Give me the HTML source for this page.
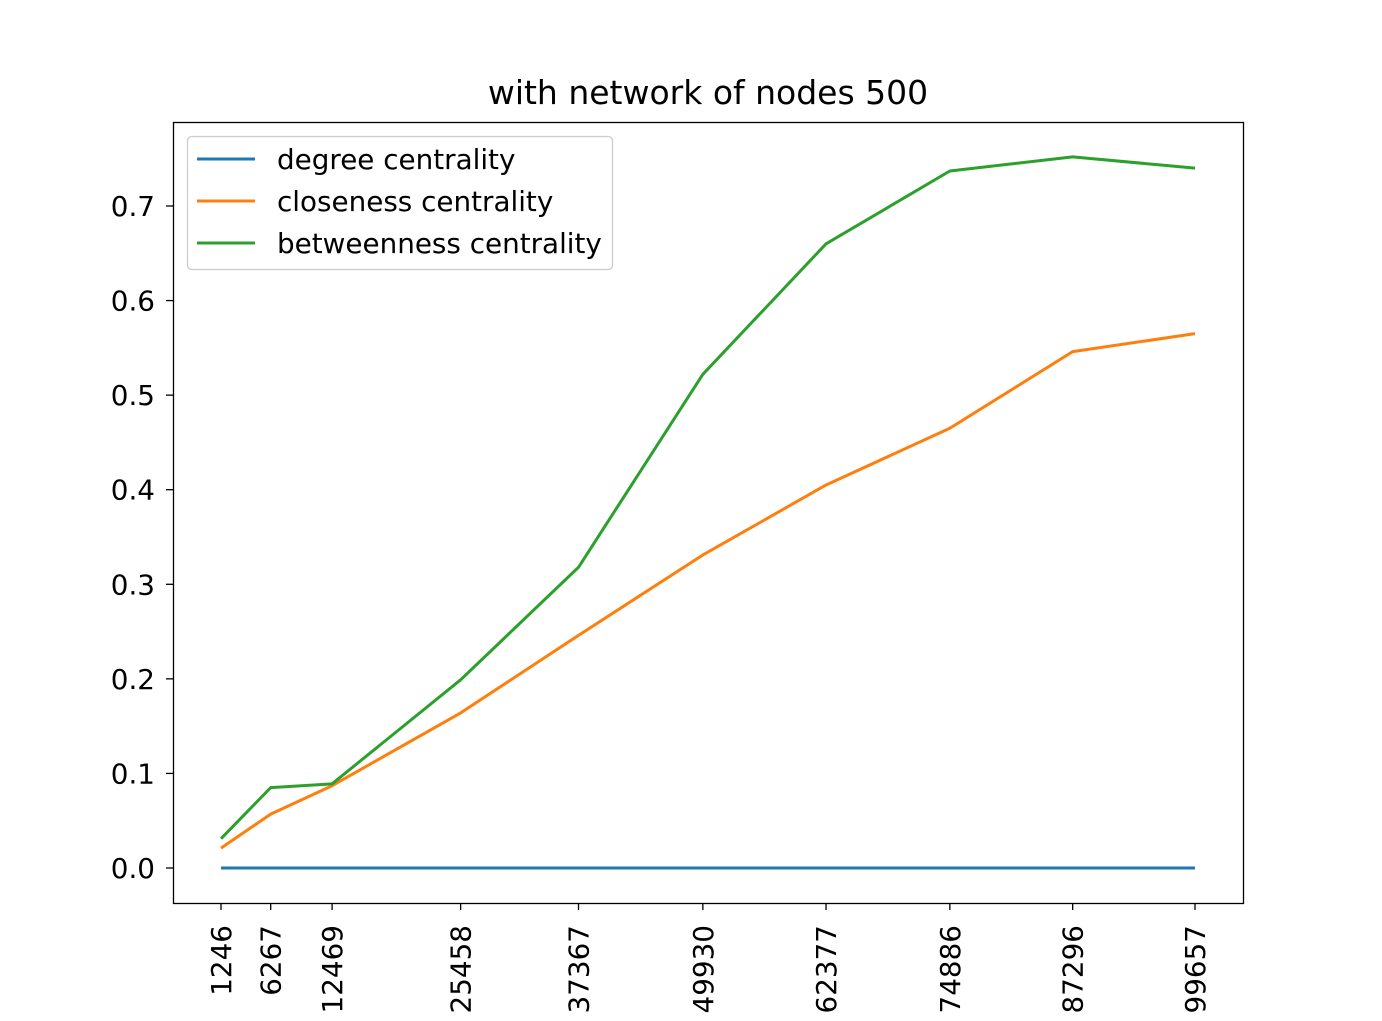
<!DOCTYPE html>
<html><head><meta charset="utf-8"><style>
body{margin:0;background:#fff;font-family:"Liberation Sans","DejaVu Sans",sans-serif}
</style></head><body>
<svg id="chart" width="1382" height="1016" xmlns="http://www.w3.org/2000/svg">
<rect x="0" y="0" width="1382" height="1016" fill="#fff"/>
<text x="708" y="104" font-size="33" text-anchor="middle" font-family="DejaVu Sans, sans-serif">with network of nodes 500</text>
<g id="plot"></g>
<rect x="173.5" y="122.5" width="1070" height="781" fill="none" stroke="#000" stroke-width="1.3"/>
<g>
<rect x="187.5" y="136.5" width="425" height="133" rx="4" fill="#fff" fill-opacity="0.8" stroke="#ccc" stroke-width="1.3"/>
<line x1="197" y1="159" x2="255" y2="159" stroke="#1f77b4" stroke-width="3"/>
<text x="277" y="169" font-size="27.8" font-family="DejaVu Sans, sans-serif">degree centrality</text>
<line x1="197" y1="201" x2="255" y2="201" stroke="#ff7f0e" stroke-width="3"/>
<text x="277" y="211" font-size="27.8" font-family="DejaVu Sans, sans-serif">closeness centrality</text>
<line x1="197" y1="243" x2="255" y2="243" stroke="#2ca02c" stroke-width="3"/>
<text x="277" y="253" font-size="27.8" font-family="DejaVu Sans, sans-serif">betweenness centrality</text>
</g>
</svg>
<script>
const categories=[1246,6267,12469,25458,37367,49930,62377,74886,87296,99657];
const degree=[0,0,0,0,0,0,0,0,0,0];
const closeness=[0.021,0.057,0.087,0.164,0.246,0.331,0.405,0.465,0.546,0.565];
const betweenness=[0.031,0.085,0.089,0.199,0.318,0.522,0.660,0.737,0.752,0.740];
const yTicks=[0,0.1,0.2,0.3,0.4,0.5,0.6,0.7];
const NS="http://www.w3.org/2000/svg";
const g=document.getElementById('plot');
function xs(v){return 221+(v-1246)*(1195-221)/(99657-1246);}
function ys(v){return 868-v*(868-206)/0.7;}
function mk(t,a){const e=document.createElementNS(NS,t);for(const k in a)e.setAttribute(k,a[k]);g.appendChild(e);return e;}
yTicks.forEach(t=>{
  const l=mk('line',{x1:166,x2:173,y1:ys(t),y2:ys(t),stroke:'#000','stroke-width':1.3});
  
  
  const tx=mk('text',{x:155,y:ys(t)+10,'font-size':27.8,'text-anchor':'end','font-family':'DejaVu Sans, sans-serif'});
  tx.textContent=t.toFixed(1);
  
  
});
categories.forEach(c=>{
  const x=xs(c);
  const l=mk('line',{x1:x,x2:x,y1:903,y2:910,stroke:'#000','stroke-width':1.3});
  
  
  const tx=mk('text',{x:0,y:0,'font-size':27.8,'text-anchor':'end','font-family':'DejaVu Sans, sans-serif',transform:`translate(${x+10},925) rotate(-90)`});
  tx.textContent=c;
  
  
});
[[degree,'#1f77b4','degree-line'],[closeness,'#ff7f0e','closeness-line'],[betweenness,'#2ca02c','betweenness-line']].forEach(([s,c,n])=>{
  const p=mk('polyline',{points:s.map((v,i)=>xs(categories[i])+','+ys(v)).join(' '),fill:'none',stroke:c,'stroke-width':3,'stroke-linejoin':'round'});
  
  
});
</script>
</body></html>
